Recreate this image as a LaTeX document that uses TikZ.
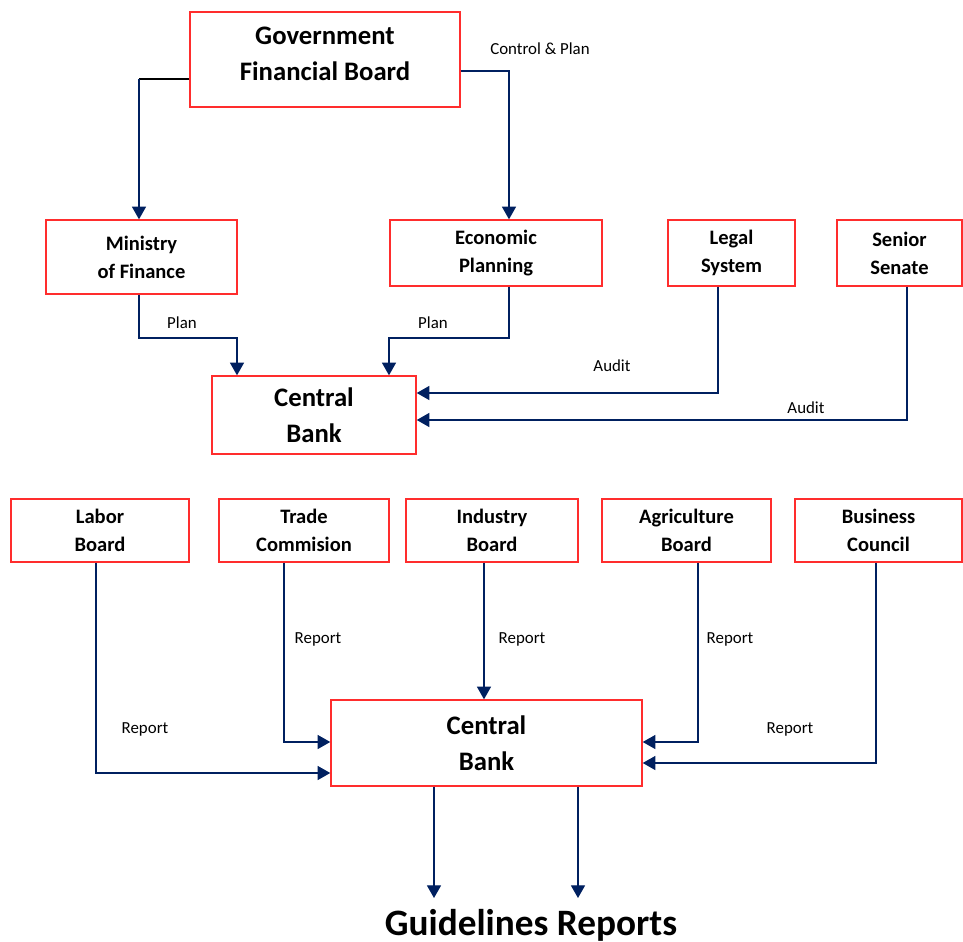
\documentclass[tikz,border=0pt]{standalone}
\usepackage{fontspec}
\setmainfont{Carlito}
\usetikzlibrary{arrows.meta}
\definecolor{boxred}{RGB}{255,45,45}
\definecolor{navy}{RGB}{0,32,96}

\begin{document}
\begin{tikzpicture}[x=0.025cm,y=-0.025cm,>={Triangle[width=10pt,length=9pt]}]
\tikzstyle{box}=[draw=boxred,line width=1pt,align=center,inner sep=0pt]
\tikzstyle{small}=[font=\fontsize{14.6}{20}\selectfont\bfseries]
\tikzstyle{big}=[font=\fontsize{19}{25.5}\selectfont\bfseries]
\tikzstyle{lbl}=[font=\fontsize{12}{14}\selectfont]
\tikzstyle{line}=[navy,line width=0.9pt]

\useasboundingbox (0,0) rectangle (963,942);

% top part
\node[box,big,minimum width=6.75cm,minimum height=2.375cm] (GFB) at (325,59.5) {Government\\Financial Board\\[-17pt]\mbox{}};

\node[box,small,minimum width=4.775cm,minimum height=1.85cm] (MF) at (141.5,257) {Ministry\\of Finance};
\node[box,small,minimum width=5.3cm,minimum height=1.65cm] (EP) at (496,253) {Economic\\Planning};
\node[box,small,minimum width=3.175cm,minimum height=1.65cm] (LS) at (731.5,253) {Legal\\System};
\node[box,small,minimum width=3.125cm,minimum height=1.65cm] (SS) at (899.5,253) {Senior\\Senate};

\node[box,big,minimum width=5.1cm,minimum height=1.95cm] (CB1) at (314,415) {Central\\Bank};

% bottom part
\node[box,small,minimum width=4.45cm,minimum height=1.575cm] (LB) at (100,530.5) {Labor\\Board};
\node[box,small,minimum width=4.25cm,minimum height=1.575cm] (TC) at (304,530.5) {Trade\\Commision};
\node[box,small,minimum width=4.3cm,minimum height=1.575cm] (IB) at (492,530.5) {Industry\\Board};
\node[box,small,minimum width=4.225cm,minimum height=1.575cm] (AB) at (686.5,530.5) {Agriculture\\Board};
\node[box,small,minimum width=4.175cm,minimum height=1.575cm] (BC) at (878.5,530.5) {Business\\Council};

\node[box,big,minimum width=7.775cm,minimum height=2.15cm] (CB2) at (486.5,743) {Central\\Bank};

\node[font=\fontsize{26.5}{30}\selectfont\bfseries] (GR) at (531,925) {Guidelines Reports};

% bends
\coordinate (c1) at (139,79);
\coordinate (c2) at (509,71);
\coordinate (c3) at (237,338);
\coordinate (c4) at (389,338);
\coordinate (c5) at (718,393);
\coordinate (c6) at (907,420);
\coordinate (c7) at (96,773);
\coordinate (c8) at (284,742);
\coordinate (c9) at (484,630);
\coordinate (c10) at (698,742);
\coordinate (c11) at (876,763);
\coordinate (c12) at (434,898);
\coordinate (c13) at (578,898);

\draw[black,line width=0.9pt] (GFB.west |- c1) -- (c1);
\draw[line,->] (c1) -- (MF.north -| c1);
\draw[line,->] (GFB.east |- c2) -| (EP.north -| c2);

\draw[line,->] (MF.south -| c1) |- (c3) -- (CB1.north -| c3);
\draw[line,->] (EP.south -| c2) |- (c4) -- (CB1.north -| c4);
\draw[line,->] (LS.south -| c5) -- (c5) -- (CB1.east |- c5);
\draw[line,->] (SS.south -| c6) -- (c6) -- (CB1.east |- c6);

\draw[line,->] (LB.south -| c7) -- (c7) -- (CB2.west |- c7);
\draw[line,->] (TC.south -| c8) -- (c8) -- (CB2.west |- c8);
\draw[line,->] (IB.south -| c9) -- (CB2.north -| c9);
\draw[line,->] (AB.south -| c10) -- (c10) -- (CB2.east |- c10);
\draw[line,->] (BC.south -| c11) -- (c11) -- (CB2.east |- c11);

\draw[line,->] (CB2.south -| c12) -- (c12);
\draw[line,->] (CB2.south -| c13) -- (c13);

% labels
\node[lbl] (l1) at (540,49) {Control \& Plan};
\node[lbl] (l2) at (182,323) {Plan};
\node[lbl] (l3) at (433,323) {Plan};
\node[lbl] (l4) at (612,366) {Audit};
\node[lbl] (l5) at (806,408) {Audit};
\node[lbl] (l6) at (145,729) {Report};
\node[lbl] (l7) at (318,639) {Report};
\node[lbl] (l8) at (522,639) {Report};
\node[lbl] (l9) at (730,639) {Report};
\node[lbl] (l10) at (790,729) {Report};

\end{tikzpicture}
\end{document}
